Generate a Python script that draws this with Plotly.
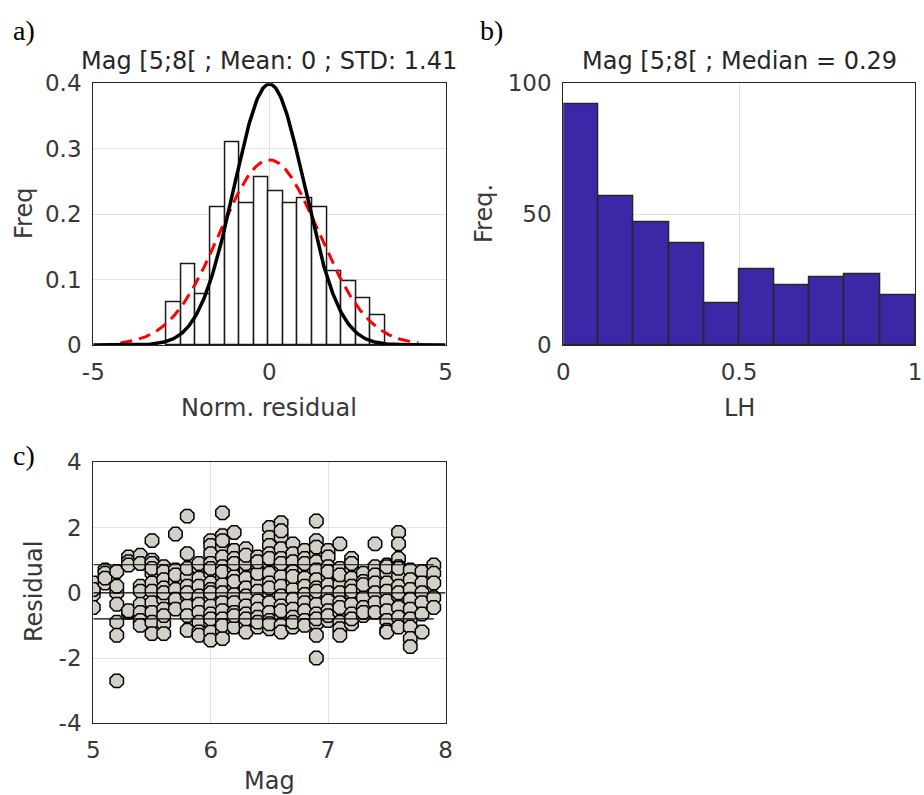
import numpy as np
import plotly.graph_objects as go

# ---------------- data ----------------
# a) histogram of normalised residuals
resid_bin_start = -2.92
resid_bin_width = 0.414
resid_freq = [0.066, 0.123, 0.077, 0.210, 0.310, 0.216, 0.256, 0.235,
              0.216, 0.224, 0.210, 0.112, 0.097, 0.071, 0.046]
fit_mean = 0.0
fit_std = 1.41

# b) histogram of LH values
lh_bin_edges = [0.0, 0.1, 0.2, 0.3, 0.4, 0.5, 0.6, 0.7, 0.8, 0.9, 1.0]
lh_counts = [92, 57, 47, 39, 16, 29, 23, 26, 27, 19]
lh_median = 0.29

# c) residual versus magnitude, one list of residuals per magnitude
residuals_by_mag = {
    5.0: [0.3, -0.05, -0.45, 0.1],
    5.1: [0.7, 0.6, 0.3, 0.45],
    5.2: [0.65, 0.0, -0.35, -0.9, -1.3, -2.7, 0.2],
    5.3: [1.1, 0.95, 0.85, -0.6, -0.55],
    5.4: [1.15, 0.9, 0.2, 0.05, -0.35, -0.6, -0.85, -1.0],
    5.5: [1.6, 1.0, 0.9, 0.6, 0.3, 0.05, -0.3, -0.6, -0.9, -1.25, 0.75],
    5.6: [0.8, 0.65, 0.4, 0.15, -0.2, -0.5, -0.95, -1.25, 0.0, -0.7],
    5.7: [1.8, 0.7, 0.35, 0.1, -0.2, -0.5, 0.55],
    5.8: [2.35, 1.2, 0.5, 0.2, -0.1, -0.4, -0.7, -1.15, 0.0, 0.75],
    5.9: [0.75, 0.45, 0.2, -0.1, -0.35, -0.6, -0.9, -1.2, 0.9, -1.3],
    6.0: [1.6, 1.45, 1.2, 0.9, 0.6, 0.3, 0.1, -0.15, -0.4, -0.65, -0.9, -1.2, -1.45, 0.0, 0.75, -0.8],
    6.1: [2.45, 1.75, 1.4, 1.1, 0.8, 0.5, 0.25, 0.0, -0.3, -0.55, -0.8, -1.15, -1.4, 0.65, 1.6, -1.0],
    6.2: [1.85, 1.3, 1.05, 0.75, 0.5, 0.2, -0.05, -0.3, -0.6, -0.85, -1.05, 0.35, 0.9, -0.7],
    6.3: [1.35, 1.0, 0.7, 0.45, 0.15, -0.1, -0.4, -0.65, -0.95, -1.2, 0.9, 1.15, -0.8],
    6.4: [1.1, 0.85, 0.55, 0.3, 0.05, -0.25, -0.5, -0.75, -1.05, 0.6, 0.95, -0.9],
    6.5: [2.0, 1.7, 1.45, 1.2, 0.9, 0.6, 0.3, 0.0, -0.3, -0.6, -0.85, -1.1, 0.15, 1.05, -0.95],
    6.6: [2.15, 1.7, 1.35, 1.05, 0.8, 0.5, 0.2, -0.1, -0.4, -0.7, -1.0, -1.2, 0.9, 1.9, -0.55],
    6.7: [1.5, 1.2, 0.95, 0.65, 0.35, 0.1, -0.2, -0.5, -0.75, -1.05, 0.5, -0.9],
    6.8: [1.3, 1.05, 0.75, 0.45, 0.2, -0.05, -0.3, -0.55, -0.85, 0.9, -1.0],
    6.9: [2.2, 1.6, 1.2, 0.95, 0.7, 0.4, 0.15, -0.1, -0.35, -0.65, -0.95, -1.3, -2.0, 0.05, 1.4, -0.8],
    7.0: [1.3, 1.1, 0.8, 0.5, 0.25, 0.0, -0.25, -0.55, -0.85, 0.65, -0.7],
    7.1: [1.5, 0.75, 0.5, 0.25, 0.0, -0.3, -0.6, -0.9, -1.1, -1.3, 0.55, -0.45],
    7.2: [1.05, 0.75, 0.45, 0.2, -0.05, -0.35, -0.65, -0.95, 0.05, 0.9, -0.8],
    7.3: [0.6, 0.35, 0.1, -0.15, -0.45, -0.7, 0.25, -0.6],
    7.4: [1.5, 0.8, 0.55, 0.3, 0.0, -0.3, -0.6],
    7.5: [0.85, 0.6, 0.3, 0.05, -0.25, -0.55, -0.85, -1.15, 0.8, -1.2],
    7.6: [1.85, 1.5, 1.05, 0.8, 0.5, 0.2, -0.1, -0.45, -0.75, -1.05, 0.75, 0.0],
    7.7: [0.7, 0.4, 0.1, -0.2, -0.5, -0.8, -1.05, -1.4, -1.65],
    7.8: [0.65, 0.3, 0.0, -0.3, -0.65, -1.2],
    7.9: [0.85, 0.6, 0.3, -0.15, -0.45],
}
resid_band = [-0.80, 0.86]   # spread lines around the zero line

# tick positions and labels
a_xticks, a_xlabels = [-5, 0, 5], ["-5", "0", "5"]
a_yticks, a_ylabels = [0, 0.1, 0.2, 0.3, 0.4], ["0", "0.1", "0.2", "0.3", "0.4"]
b_xticks, b_xlabels = [0, 0.5, 1], ["0", "0.5", "1"]
b_yticks, b_ylabels = [0, 50, 100], ["0", "50", "100"]
c_xticks, c_xlabels = [5, 6, 7, 8], ["5", "6", "7", "8"]
c_yticks, c_ylabels = [-4, -2, 0, 2, 4], ["-4", "-2", "0", "2", "4"]

# ---------------- styling ----------------
FONT = "DejaVu Sans"
TXT = "#383838"
GRID = "#e0e0e0"
AX = "#262626"
TICK_SIZE = 23
LABEL_SIZE = 24
TITLE_SIZE = 24

fig = go.Figure()

# a) histogram bars (white boxes)
n_bins = len(resid_freq)
a_centers = [resid_bin_start + resid_bin_width * (i + 0.5) for i in range(n_bins)]
fig.add_trace(go.Bar(
    x=a_centers, y=resid_freq, width=[resid_bin_width] * n_bins,
    marker=dict(color="white", line=dict(color="#1a1a1a", width=1.5)),
    xaxis="x", yaxis="y", showlegend=False,
))
# fitted normal (red dashed) and standard normal (black)
xr = np.linspace(fit_mean - 3 * fit_std, fit_mean + 3 * fit_std, 300)
fig.add_trace(go.Scatter(
    x=xr, y=np.exp(-0.5 * ((xr - fit_mean) / fit_std) ** 2) / (fit_std * np.sqrt(2 * np.pi)),
    mode="lines", line=dict(color="#ff0000", width=3, dash="12px,7px"),
    xaxis="x", yaxis="y", showlegend=False,
))
xs = np.linspace(-5, 5, 400)
fig.add_trace(go.Scatter(
    x=xs, y=np.exp(-0.5 * xs ** 2) / np.sqrt(2 * np.pi),
    mode="lines", line=dict(color="black", width=3.5),
    xaxis="x", yaxis="y", showlegend=False,
))

# b) LH histogram
b_centers = [(lh_bin_edges[i] + lh_bin_edges[i + 1]) / 2 for i in range(len(lh_counts))]
b_widths = [lh_bin_edges[i + 1] - lh_bin_edges[i] for i in range(len(lh_counts))]
fig.add_trace(go.Bar(
    x=b_centers, y=lh_counts, width=b_widths,
    marker=dict(color="#3d27a6", line=dict(color="#262626", width=1.5)),
    xaxis="x2", yaxis="y2", showlegend=False,
))

# c) residual scatter
mags, resids = [], []
for m, vals in residuals_by_mag.items():
    mags += [m] * len(vals)
    resids += vals
fig.add_trace(go.Scatter(
    x=mags, y=resids, mode="markers",
    marker=dict(symbol="octagon", size=14.5, color="#d4d0c8",
                line=dict(color="black", width=1.5)),
    xaxis="x3", yaxis="y3", showlegend=False,
))
mag_min = min(residuals_by_mag)
mag_max = max(residuals_by_mag)
fig.add_trace(go.Scatter(x=[5, 8], y=[0, 0], mode="lines",
                         line=dict(color="black", width=1.2),
                         xaxis="x3", yaxis="y3", showlegend=False))
for lvl in resid_band:
    fig.add_trace(go.Scatter(x=[mag_min, mag_max], y=[lvl, lvl], mode="lines",
                             line=dict(color="black", width=1.2),
                             xaxis="x3", yaxis="y3", showlegend=False))

W, H = 924, 795
dom_left = [93.3 / W, 445.5 / W]
dom_right = [563.3 / W, 915.0 / W]
dom_top = [1 - 345.0 / H, 1 - 83.3 / H]
dom_bot = [1 - 723.3 / H, 1 - 462.3 / H]


def axis(dom, rng, tickvals, ticktext, anchor, standoff):
    return dict(domain=dom, range=rng, tickvals=tickvals, ticktext=ticktext,
                anchor=anchor, automargin=False,
                showline=True, mirror=True, linecolor=AX, linewidth=1.3,
                showgrid=True, gridcolor=GRID, gridwidth=1, zeroline=False,
                ticks="", ticklabelstandoff=standoff,
                tickfont=dict(family=FONT, size=TICK_SIZE, color=TXT),
                fixedrange=True)


fig.update_layout(
    width=W, height=H,
    margin=dict(l=0, r=0, t=0, b=0, autoexpand=False),
    paper_bgcolor="white", plot_bgcolor="white",
    bargap=0,
    xaxis=axis(dom_left, [-5, 5], a_xticks, a_xlabels, "y", 6),
    yaxis=axis(dom_top, [0, 0.4], a_yticks, a_ylabels, "x", 6),
    xaxis2=axis(dom_right, [0, 1], b_xticks, b_xlabels, "y2", 6),
    yaxis2=axis(dom_top, [0, 100], b_yticks, b_ylabels, "x2", 6),
    xaxis3=axis(dom_left, [5, 8], c_xticks, c_xlabels, "y3", 6),
    yaxis3=axis(dom_bot, [-4, 4], c_yticks, c_ylabels, "x3", 6),
)


def px_ann(text, x, y, size, angle=0, color=TXT, family=FONT, xanchor="center",
           yanchor="middle"):
    return dict(text=text, x=x / W, y=1 - y / H, xref="paper", yref="paper",
                xanchor=xanchor, yanchor=yanchor, textangle=angle,
                showarrow=False, font=dict(family=family, size=size, color=color))


ann = [
    # panel titles
    px_ann("Mag [5;8[ ; Mean: 0 ; STD: %.2f" % fit_std, 269, 61, TITLE_SIZE, color="#262626"),
    px_ann("Mag [5;8[ ; Median = %.2f" % lh_median, 739, 61, TITLE_SIZE, color="#262626"),
    # axis titles
    px_ann("Freq", 24, 214, LABEL_SIZE, angle=-90),
    px_ann("Norm. residual", 269, 408, LABEL_SIZE),
    px_ann("Freq.", 484, 214, LABEL_SIZE, angle=-90),
    px_ann("LH", 739, 408, LABEL_SIZE),
    px_ann("Residual", 34, 592, LABEL_SIZE, angle=-90),
    px_ann("Mag", 269, 781, LABEL_SIZE),
    # panel letters
    px_ann("a)", 24, 31, 28, color="black", family="Liberation Serif"),
    px_ann("b)", 491, 31, 28, color="black", family="Liberation Serif"),
    px_ann("c)", 24, 455, 28, color="black", family="Liberation Serif"),
]
fig.update_layout(annotations=ann)

fig.write_html("out.html")
